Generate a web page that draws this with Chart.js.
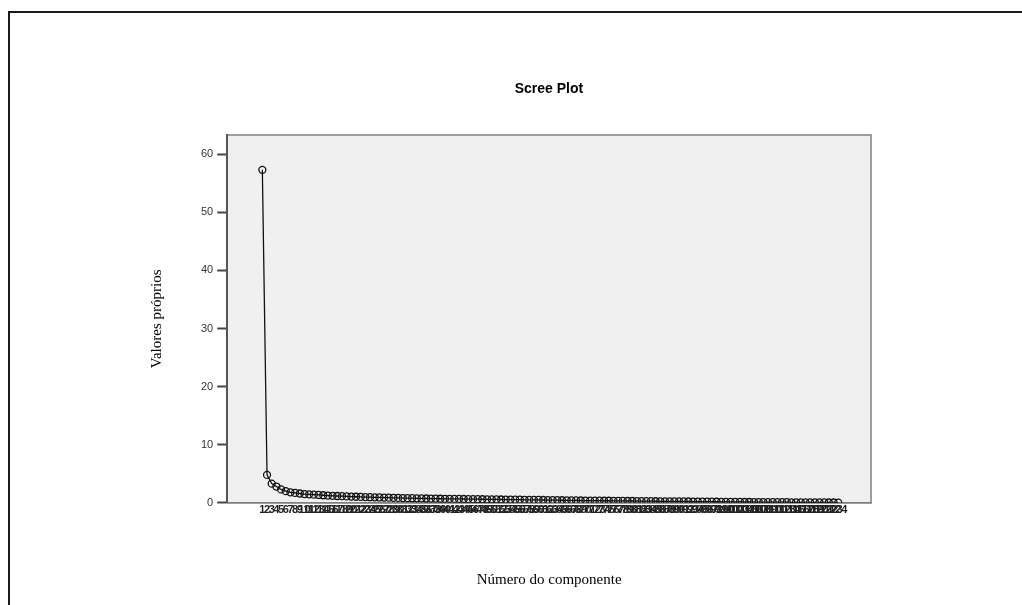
<!DOCTYPE html>
<html>
<head>
<meta charset="utf-8">
<script src="https://cdn.jsdelivr.net/npm/chart.js@4"></script>
<style>
  html, body { margin: 0; padding: 0; background: #fff; }
  #wrap { position: relative; width: 1022px; height: 605px; overflow: hidden; }
  #frame { position: absolute; left: 8px; top: 11px; width: 1100px; height: 700px;
           border-top: 2px solid #1a1a1a; border-left: 2px solid #1a1a1a; }
  #title { position: absolute; left: 449px; top: 80px; width: 200px; text-align: center;
           font: bold 14px 'Liberation Sans', Arial, sans-serif; color: #000; }
  #screeChart { position: absolute; left: 0; top: 0; }
</style>
</head>
<body>
<div id="wrap">
  <div id="frame"></div>
  <canvas id="screeChart" width="1022" height="605"></canvas>
  <div id="title"></div>
</div>
<script>
const chartTitle = 'Scree Plot';
const xTitle = 'Número do componente';
const yTitle = 'Valores próprios';

// valores próprios por componente
const eigenvalues = [
  57.3, 4.8, 3.3, 2.8, 2.3, 2.0, 1.8, 1.7, 1.6, 1.5,
  1.45, 1.4, 1.35, 1.3, 1.25, 1.2, 1.17, 1.14, 1.1, 1.07,
  1.04, 1.01, 0.98, 0.96, 0.94, 0.92, 0.9, 0.88, 0.86, 0.84,
  0.82, 0.8, 0.79, 0.77, 0.76, 0.74, 0.73, 0.72, 0.7, 0.69,
  0.68, 0.67, 0.66, 0.65, 0.64, 0.63, 0.62, 0.61, 0.6, 0.59,
  0.58, 0.57, 0.56, 0.55, 0.54, 0.53, 0.52, 0.51, 0.5, 0.49,
  0.48, 0.47, 0.46, 0.45, 0.44, 0.43, 0.42, 0.41, 0.4, 0.39,
  0.38, 0.37, 0.36, 0.35, 0.35, 0.34, 0.33, 0.32, 0.31, 0.31,
  0.3, 0.29, 0.28, 0.28, 0.27, 0.26, 0.25, 0.25, 0.24, 0.23,
  0.23, 0.22, 0.21, 0.21, 0.2, 0.19, 0.19, 0.18, 0.17, 0.17,
  0.16, 0.16, 0.15, 0.14, 0.14, 0.13, 0.13, 0.12, 0.12, 0.11,
  0.11, 0.1, 0.1, 0.09, 0.09, 0.08, 0.08, 0.07, 0.07, 0.06,
  0.06, 0.05, 0.05, 0.04
];
const components = eigenvalues.map((v, i) => i + 1);
const yTicks = [0, 10, 20, 30, 40, 50, 60];

document.getElementById('title').textContent = chartTitle;

// plot background + box, like the SPSS chart
const plotBox = {
  id: 'plotBox',
  beforeDraw(chart) {
    const { ctx, chartArea: a } = chart;
    ctx.save();
    ctx.fillStyle = '#f0f0f0';
    ctx.fillRect(a.left, a.top, a.right - a.left, a.bottom - a.top);
    ctx.strokeStyle = '#808080';
    ctx.lineWidth = 1.5;
    ctx.strokeRect(a.left, a.top, a.right - a.left, a.bottom - a.top);
    ctx.restore();
  },
};

new Chart(document.getElementById('screeChart'), {
  type: 'line',
  data: {
    datasets: [{
      data: components.map((c, i) => ({ x: c, y: eigenvalues[i] })),
      borderColor: '#111',
      borderWidth: 1.3,
      pointRadius: 3.5,
      pointBorderWidth: 1.3,
      pointBorderColor: '#111',
      pointBackgroundColor: 'rgba(0,0,0,0)',
      tension: 0,
    }],
  },
  options: {
    responsive: false,
    animation: false,
    layout: { padding: { left: 148, right: 151, top: 135, bottom: 16 } },
    plugins: {
      legend: { display: false },
      tooltip: { enabled: false },
      title: { display: false },
    },
    scales: {
      x: {
        type: 'linear', min: -6.5, max: 131,
        afterBuildTicks: s => { s.ticks = components.map(c => ({ value: c })); },
        ticks: {
          autoSkip: false, maxRotation: 0, minRotation: 0, padding: 1,
          color: '#222', font: { family: 'Liberation Sans', size: 11, weight: 'bold' },
          callback: v => String(v),
        },
        grid: { display: false, drawTicks: false },
        border: { display: true, color: '#808080', width: 1.5 },
        title: {
          display: true, text: xTitle, color: '#000',
          font: { family: 'Liberation Serif', size: 15 },
          padding: { top: 53, bottom: 0 },
        },
      },
      y: {
        min: 0, max: 63.3,
        afterBuildTicks: s => { s.ticks = yTicks.map(v => ({ value: v })); },
        ticks: { padding: 4, color: '#333', font: { family: 'Liberation Sans', size: 11 } },
        grid: { drawOnChartArea: false, tickLength: 10, tickWidth: 2, tickColor: '#444' },
        border: { display: true, color: '#555', width: 2 },
        title: {
          display: true, text: yTitle, color: '#000',
          font: { family: 'Liberation Serif', size: 15 },
          padding: { top: 0, bottom: 31 },
        },
      },
    },
  },
  plugins: [plotBox],
});
</script>
</body>
</html>
